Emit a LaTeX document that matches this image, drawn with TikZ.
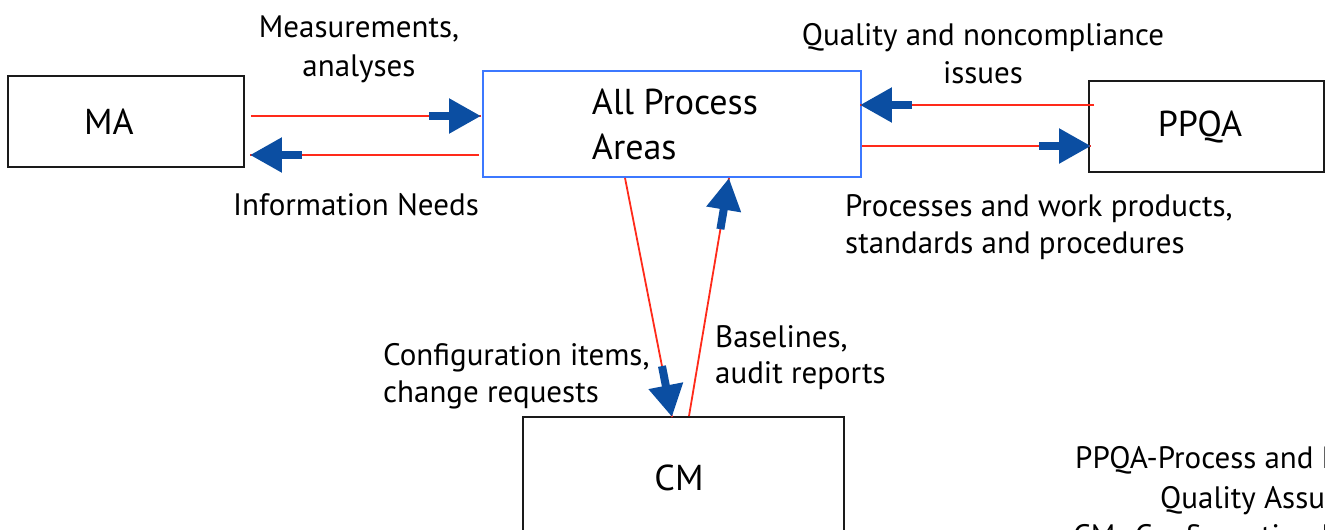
\documentclass[tikz,border=0pt]{standalone}
\usepackage{fontspec}
\setmainfont{PT Sans}
\usetikzlibrary{arrows.meta,calc}
\definecolor{flowred}{HTML}{FF2A1A}
\definecolor{flowblue}{HTML}{0B4EA2}
\definecolor{apablue}{HTML}{3C78FF}
\definecolor{boxgray}{HTML}{1A1A1A}
\tikzset{
  boxnode/.style={draw=boxgray,line width=1.8pt,inner sep=0pt,font=\fontsize{36}{44}\selectfont},
  apanode/.style={draw=apablue,line width=1.8pt,inner sep=0pt,align=left,font=\fontsize{36}{45}\selectfont},
  lbl/.style={inner sep=0pt,font=\fontsize{31}{38}\selectfont},
  redline/.style={draw=flowred,line width=1.8pt},
  blueend/.style={draw=flowblue,line width=8pt,-{Triangle[length=32pt,width=33pt]}},
}
\newcommand{\flowarrow}[2]{%
  \draw[redline] (#1) -- (#2);
  \draw[blueend] ($(#2)!52pt!(#1)$) -- (#2);}
\begin{document}
\begin{tikzpicture}[x=1pt,y=-1pt]
\clip (0,0) rectangle (1325,530);
\fill[white] (0,0) rectangle (1325,530);
% boxes
\node[boxnode,minimum width=236pt,minimum height=91pt] (ma) at (126,121.5) {MA\kern34pt};
\node[apanode,minimum width=378pt,minimum height=106pt] (apa) at (672,124) {\kern6pt All Process\\\kern6pt Areas};
\node[boxnode,minimum width=235pt,minimum height=91pt] (ppqa) at (1206.5,126.5) {PPQA\kern13pt};
\node[boxnode,minimum width=321pt,minimum height=183pt] (cm) at (683.5,508.5) {};
\node[inner sep=0pt,font=\fontsize{36}{44}\selectfont] (cmtext) at (679,478) {CM};
% connectors
\flowarrow{$(ma.east)+(6,-5.5)$}{$(apa.west)+(-1,-8)$}
\flowarrow{$(apa.west)+(-3,31)$}{$(ma.east)+(5,33.5)$}
\flowarrow{$(ppqa.west)+(6,-21.5)$}{$(apa.east)+(-2,-19)$}
\flowarrow{$(apa.east)+(0,22)$}{$(ppqa.west)+(3,19.5)$}
\flowarrow{$(apa.south)+(-47,0)$}{$(cm.north)+(-11.5,1)$}
\flowarrow{$(cm.north)+(5.5,0)$}{$(apa.south)+(57,0)$}
% labels
\node[lbl,anchor=base] (m1) at (359,37) {Measurements,};
\node[lbl,anchor=base] (m2) at (359,76) {analyses};
\node[lbl,anchor=base west] (info) at (233,215) {Information Needs};
\node[lbl,anchor=base] (q1) at (983,45) {Quality and noncompliance};
\node[lbl,anchor=base] (q2) at (983,83) {issues};
\node[lbl,anchor=base west] (p1) at (845,216) {Processes and work products,};
\node[lbl,anchor=base west] (p2) at (845,253) {standards and procedures};
\node[lbl,anchor=base west] (c1) at (383,365) {Configuration items,};
\node[lbl,anchor=base west] (c2) at (383,402) {change requests};
\node[lbl,anchor=base west] (b1) at (715,347) {Baselines,};
\node[lbl,anchor=base west] (b2) at (715,383) {audit reports};
\node[lbl,anchor=base west] (k1) at (1075,468) {PPQA-Process and Product};
\node[lbl,anchor=base west] (k2) at (1160,508) {Quality Assurance};
\node[lbl,anchor=base west] (k3) at (1073,546) {CM- Configuration Management};
\end{tikzpicture}
\end{document}
